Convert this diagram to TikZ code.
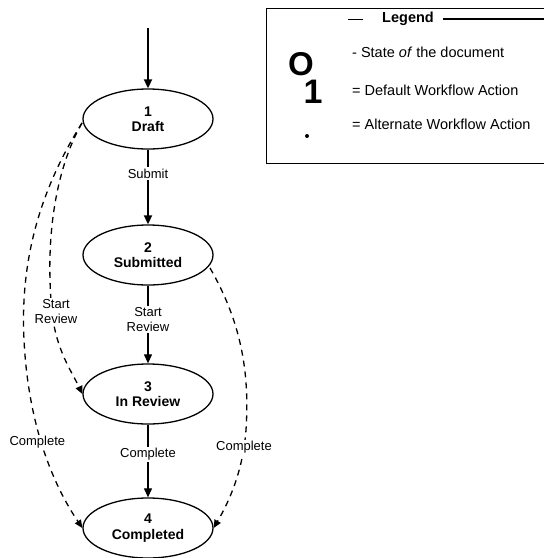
\documentclass[tikz,border=0pt]{standalone}
\usepackage{fontspec}
\setmainfont{Liberation Sans}
\usetikzlibrary{shapes.geometric,arrows.meta}

\tikzset{
  state/.style={ellipse, draw, line width=1.3pt, minimum width=130pt,
    minimum height=60pt, inner sep=0pt, align=center,
    font=\fontsize{14}{15.5}\selectfont\bfseries},
  defaultflow/.style={line width=1.7pt, -{Triangle[length=9pt,width=8pt]}},
  lightflow/.style={line width=1.1pt, -{Triangle[length=9pt,width=8pt]}},
  altflow/.style={line width=1.3pt, dash pattern=on 6pt off 5pt,
    -{Triangle[length=8pt,width=7pt]}},
  lbl/.style={fill=white, inner sep=1.5pt, align=center,
    font=\fontsize{13}{15}\selectfont},
  legendtext/.style={anchor=west, inner sep=0pt, font=\fontsize{14.5}{16}\selectfont},
}

\begin{document}
\begin{tikzpicture}[x=1pt, y=-1pt]
  \useasboundingbox (0,0) rectangle (544,558);

  % workflow states
  \node[state] (draft)     at (148,119) {1\\Draft};
  \node[state] (submitted) at (148,255) {2\\Submitted};
  \node[state] (review)    at (148,394) {3\\In Review};
  \node[state] (completed) at (148,528) {4\\Completed};

  % entry point
  \coordinate (start) at (148,28);
  \draw[defaultflow] (start) -- (draft);

  % default actions
  \draw[defaultflow] (draft) -- node[lbl, pos=0.32] {Submit} (submitted);
  \draw[lightflow] (submitted) -- node[lbl, pos=0.44] {Start\\Review} (review);
  \draw[lightflow] (review) -- node[lbl, pos=0.41] {Complete} (completed);

  % alternate actions
  \coordinate (dl) at (82,123);
  \coordinate (sr) at (210,268);
  \draw[altflow] (dl) .. controls (40,190) and (20,260) .. (24,340)
    .. controls (28,420) and (50,480) .. (completed.west)
    node[lbl, pos=0.48, xshift=-4pt] {Complete};
  \draw[altflow] (dl) .. controls (55,170) and (45,240) .. (52,312)
    node[lbl, pos=1, xshift=4pt] {Start\\Review}
    .. controls (56,350) and (72,372) .. (review.west);
  \draw[altflow] (sr) .. controls (240,320) and (250,370) .. (246,430)
    .. controls (243,470) and (230,500) .. (completed.east)
    node[lbl, pos=0.15] {Complete};

  % legend frame
  \draw[line width=1pt] (545,8) -- (266,8) -- (266,163) -- (545,163);
  \node[inner sep=1pt, font=\fontsize{14.5}{16}\selectfont\bfseries] (legend) at (408,19) {Legend};
  \draw[line width=1pt] (348,19) -- (363,19);
  \draw[line width=1.8pt] (443,19) -- (545,19);

  % legend symbols
  \node[inner sep=0pt, font=\fontsize{33}{33}\selectfont\bfseries] (symstate) at (301,64) {O};
  \node[inner sep=0pt, font=\fontsize{34}{34}\selectfont\bfseries] (symdefault) at (313,92) {1};
  \node[circle, fill, inner sep=0pt, minimum size=4pt] (symalt) at (307,136) {};

  % legend entries
  \node[legendtext] (lstate) at (352,52) {- State \textit{of} the document};
  \node[legendtext] (ldefault) at (352,90) {= Default Workflow Action};
  \node[legendtext] (lalt) at (352,124) {= Alternate Workflow Action};
\end{tikzpicture}
\end{document}
